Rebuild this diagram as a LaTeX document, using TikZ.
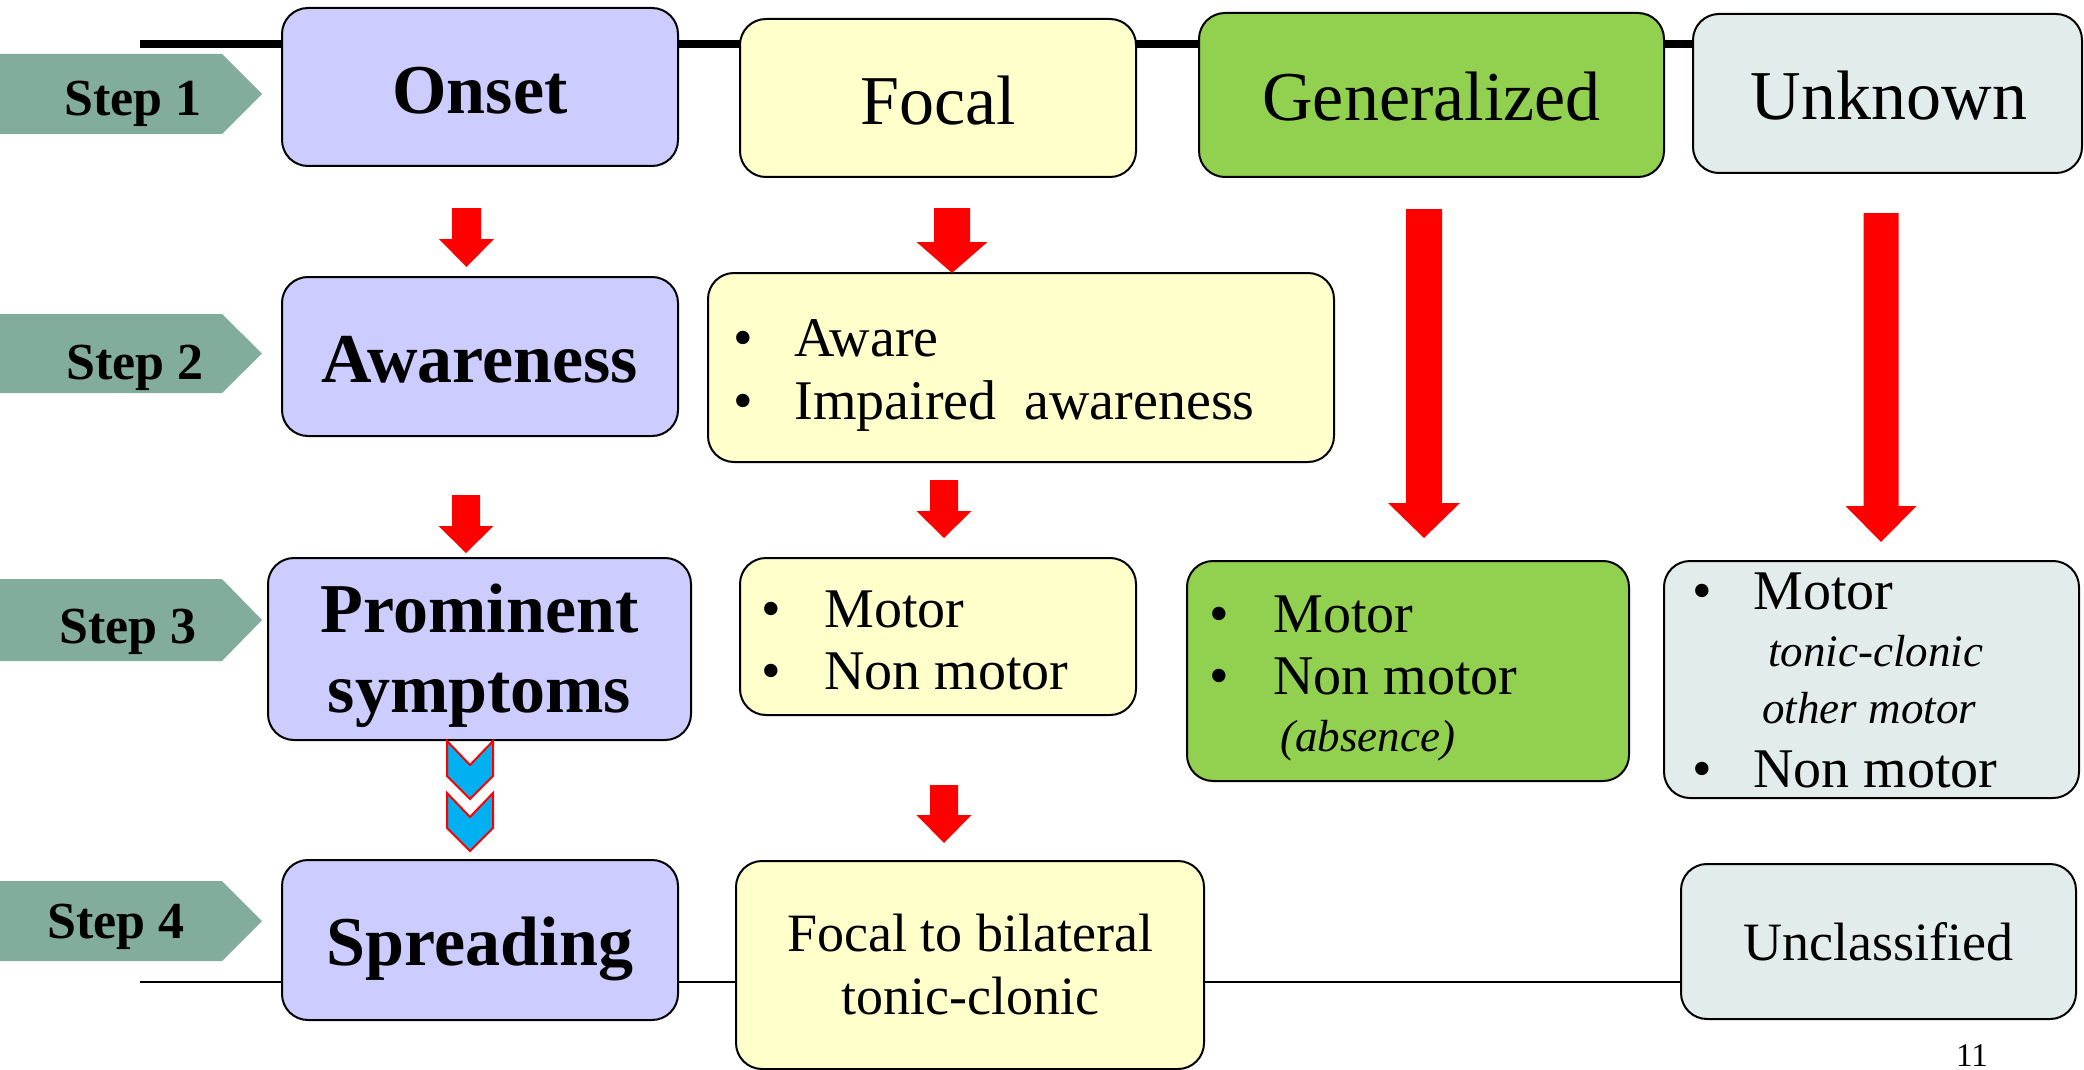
\documentclass[tikz,border=0pt]{standalone}
\usepackage{fontspec}
\setmainfont{Liberation Serif}
\usetikzlibrary{backgrounds}

\definecolor{stepfill}{HTML}{82AC9C}
\definecolor{onsetfill}{HTML}{CCCCFF}
\definecolor{focalfill}{HTML}{FFFFCC}
\definecolor{genfill}{HTML}{92D050}
\definecolor{unkfill}{HTML}{E3ECEC}
\definecolor{arrowred}{HTML}{FF0000}
\definecolor{chevfill}{HTML}{00B0F0}

% block arrow pointing down: centre x, top, start of head, tip, shaft width, head width
\newcommand\redarrow[6]{%
  \fill[arrowred] ({#1-#5/2},#2) -- ({#1+#5/2},#2) -- ({#1+#5/2},#3) -- ({#1+#6/2},#3)
    -- (#1,#4) -- ({#1-#6/2},#3) -- ({#1-#5/2},#3) -- cycle;}

% downward chevron: centre x, top
\newcommand\chevron[2]{%
  \filldraw[fill=chevfill, draw=arrowred, line width=1pt, line join=miter]
    ({#1-23},#2) -- (#1,{#2+24}) -- ({#1+23},#2) -- ({#1+23},{#2+35})
    -- (#1,{#2+58}) -- ({#1-23},{#2+35}) -- cycle;}

% step banner: top, bottom
\newcommand\stepbanner[2]{%
  \fill[stepfill] (0,#1) -- (222,#1) -- (262,{(#1+#2)/2}) -- (222,#2) -- (0,#2) -- cycle;}

\begin{document}
\begin{tikzpicture}[x=0.5pt, y=-0.5pt,
  box/.style={draw=black, line width=1pt, rounded corners=13pt, inner sep=0pt, align=center},
  head/.style={inner sep=0pt, font=\fontsize{35}{40}\selectfont},
  headb/.style={inner sep=0pt, align=center, font=\bfseries\fontsize{35}{40}\selectfont},
  bul/.style={anchor=base, inner sep=0pt, font=\fontsize{28}{32}\selectfont},
  item/.style={anchor=base west, inner sep=0pt, font=\fontsize{28}{32}\selectfont},
  ital/.style={anchor=base west, inner sep=0pt, font=\itshape\fontsize{22.5}{26}\selectfont},
  steplabel/.style={inner sep=0pt, font=\bfseries\fontsize{26}{30}\selectfont},
  plain/.style={font=\fontsize{27}{31.5}\selectfont}]

\useasboundingbox (0,0) rectangle (2084,1070);

% step banners
\stepbanner{54}{134}
\stepbanner{314}{393}
\stepbanner{579}{661}
\stepbanner{881}{961}
\node[steplabel] (step1) at (133,104) {Step 1};
\node[steplabel] (step2) at (135,368) {Step 2};
\node[steplabel] (step3) at (128,632) {Step 3};
\node[steplabel] (step4) at (116,927) {Step 4};

% row 1: onset
\node[box, fill=onsetfill, minimum width=198pt, minimum height=79pt] (onset) at (480,87) {};
\node[headb] (onsettext) at (480,91) {Onset};
\node[box, fill=focalfill, minimum width=198pt, minimum height=79pt] (focal) at (938,98) {};
\node[head] (focaltext) at (938,101) {Focal};
\node[box, fill=genfill, minimum width=232.5pt, minimum height=82pt] (gen) at (1431.5,95) {};
\node[head] (gentext) at (1431.5,97) {Generalized};
\node[box, fill=unkfill, minimum width=194.5pt, minimum height=79.5pt] (unk) at (1887.5,93.5) {};
\node[head] (unktext) at (1889,96) {Unknown};

% row 2: awareness
\node[box, fill=onsetfill, minimum width=198pt, minimum height=79.5pt] (awareness) at (480,356.5) {};
\node[headb] (awarenesstext) at (480,360) {Awareness};
\node[box, fill=focalfill, minimum width=313pt, minimum height=94.5pt] (awarelist) at (1021,367.5) {};
\node[bul] (ab1) at (743,356) {\textbullet};
\node[item] (at1) at (794,356) {Aware};
\node[bul] (ab2) at (743,419) {\textbullet};
\node[item] (at2) at (794,419) {Impaired\ \ awareness};

% row 3: prominent symptoms
\node[box, fill=onsetfill, minimum width=211.5pt, minimum height=91pt] (prom) at (479.5,649) {};
\node[headb] (promtext) at (479.5,656) {Prominent\\symptoms};
\node[box, fill=focalfill, minimum width=198pt, minimum height=78.5pt] (fmotor) at (938,636.5) {};
\node[bul] (fb1) at (771,627) {\textbullet};
\node[item] (ft1) at (824,627) {Motor};
\node[bul] (fb2) at (771,689) {\textbullet};
\node[item] (ft2) at (824,689) {Non motor};

\node[box, fill=genfill, minimum width=221pt, minimum height=110pt] (gmotor) at (1408,671) {};
\node[bul] (gb1) at (1219,632) {\textbullet};
\node[item] (gt1) at (1273,632) {Motor};
\node[bul] (gb2) at (1219,694) {\textbullet};
\node[item] (gt2) at (1273,694) {Non motor};
\node[ital] (gt3) at (1280,751) {(absence)};

\node[box, fill=unkfill, minimum width=207.5pt, minimum height=118.5pt] (umotor) at (1871.5,679.5) {};
\node[bul] (ub1) at (1702,609) {\textbullet};
\node[item] (ut1) at (1753,609) {Motor};
\node[ital] (ut2) at (1768,666) {tonic-clonic};
\node[ital] (ut3) at (1762,723) {other motor};
\node[bul] (ub2) at (1702,787) {\textbullet};
\node[item] (ut4) at (1753,787) {Non motor};

% row 4: spreading
\node[box, fill=onsetfill, minimum width=198pt, minimum height=80pt] (spread) at (480,940) {};
\node[headb] (spreadtext) at (480,949) {Spreading};
\node[box, fill=focalfill, minimum width=234pt, minimum height=104pt, plain] (f2b) at (970,965) {Focal to bilateral\\tonic-clonic};
\node[box, fill=unkfill, minimum width=197.5pt, minimum height=77.5pt, plain] (uncl) at (1878.5,941.5) {Unclassified};

% rails behind the boxes
\begin{scope}[on background layer]
  \coordinate (tl) at (140,44);
  \draw[line width=4pt] (tl) -- (tl -| unk.west);
  \coordinate (bl) at (140,982);
  \draw[line width=1pt] (bl) -- (bl -| uncl.west);
\end{scope}

% red block arrows
\redarrow{466.5}{208}{239}{267}{29}{55}
\redarrow{952}{208}{242}{273}{36}{71}
\redarrow{466}{495}{526}{553}{28}{55}
\redarrow{944}{480}{511}{538}{28}{55}
\redarrow{944}{785}{815}{843}{28}{55}
\redarrow{1424}{209}{503}{538}{36}{72}
\redarrow{1881}{213}{506}{542}{35}{71}

% chevrons below prominent symptoms
\chevron{470}{741}
\chevron{470}{793}

% page number
\node[anchor=base, inner sep=0pt, font=\fontsize{16.5}{20}\selectfont] (pagenum) at (1972,1066) {11};

\end{tikzpicture}
\end{document}
